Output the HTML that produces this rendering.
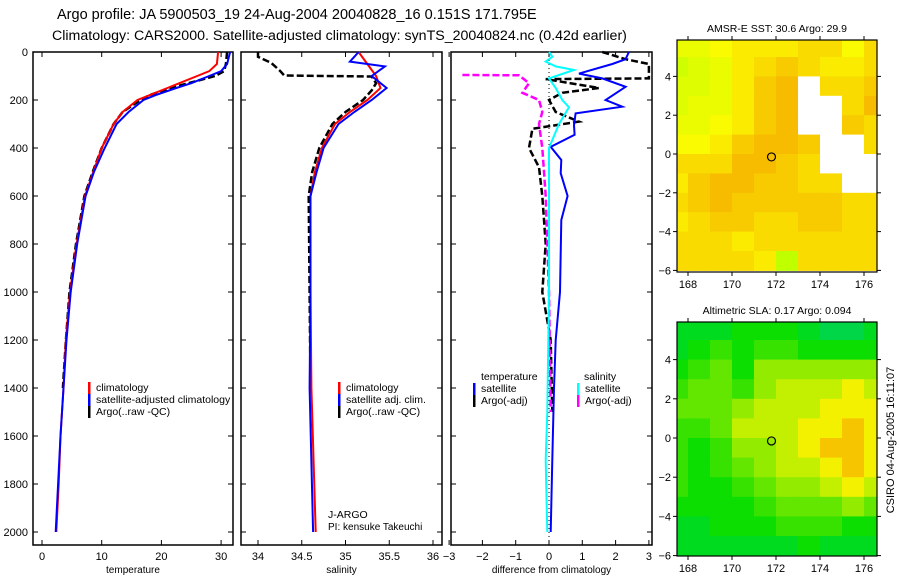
<!DOCTYPE html>
<html><head><meta charset="utf-8"><style>
body{margin:0;background:#fff;}
svg{display:block;font-family:"Liberation Sans",sans-serif;}
</style></head><body>
<svg id="fig" width="900" height="580" viewBox="0 0 900 580">
<text x="57" y="19" font-size="14.5">Argo profile: JA 5900503_19 24-Aug-2004 20040828_16 0.151S 171.795E</text>
<text x="52" y="40" font-size="14.2">Climatology: CARS2000. Satellite-adjusted climatology: synTS_20040824.nc (0.42d earlier)</text>
<text transform="translate(894,440) rotate(-90)" font-size="11" text-anchor="middle">CSIRO 04-Aug-2005 16:11:07</text>
</svg>
<script>
// ---------- data ----------
const depthTicks=[0,200,400,600,800,1000,1200,1400,1600,1800,2000];
const tempTicks=[0,10,20,30];
const salTicks=[34,34.5,35,35.5,36];
const diffTicks=[-3,-2,-1,0,1,2,3];
const tempClimDepth=[0,50,80,100,130,150,180,200,250,300,400,500,600,800,1000,1200,1400,1600,1800,2000];
const tempClim=[29.5,29.3,28,26,23,21,18,16,13.5,12,10,8.6,7.2,5.8,4.7,4,3.6,3.1,2.8,2.4];
const tempSatDepth=[0,50,80,100,130,150,180,200,250,300,400,500,600,800,1000,1200,1400,1600,1800,2000];
const tempSat=[31.5,31,30,28,25,22.5,19,17,14.5,12.5,10.5,8.7,7.3,5.9,4.8,4.1,3.6,3.1,2.7,2.3];
const tempArgoDepth=[0,50,80,100,130,150,180,200,250,300,400,500,600,800,1000,1200,1400];
const tempArgo=[31,30.8,30.5,29,24.5,21.5,18,16.5,13.5,12,10,8.5,7.1,5.7,4.6,4,3.5];
const salClimDepth=[0,100,150,200,250,300,400,500,600,1000,1400,2000];
const salClim=[35.15,35.35,35.4,35.25,35.05,34.88,34.73,34.65,34.6,34.6,34.61,34.66];
const salSatDepth=[0,20,40,60,100,150,200,250,300,400,500,600,1000,1400,2000];
const salSat=[35.15,35.1,35.05,35.45,35.3,35.47,35.3,35.1,34.92,34.75,34.67,34.6,34.6,34.59,34.63];
const salArgoDepth=[0,20,45,78,98,102,130,160,200,250,300,400,500,600,1000,1400];
const salArgo=[34.0,34.0,34.15,34.25,34.3,35.3,35.35,35.3,35.2,35.0,34.85,34.7,34.62,34.58,34.59,34.6];
const dTempSatDepth=[0,30,50,90,110,145,200,228,256,305,345,395,450,505,600,700,1000,1200,1400,1700,2000];
const dTempSat=[2.4,2.3,1.9,0.9,1.6,2.3,1.7,2.2,0.8,0.75,0.77,0.05,0.37,0.35,0.56,0.37,0.33,0.2,0.15,0.1,0.05];
const dTempArgoDepth=[0,30,50,110,113,150,170,200,250,290,320,400,480,600,800,1000,1200,1500];
const dTempArgo=[1.6,2.3,3,3,-0.1,1.5,0.4,0,0.2,0.9,-0.5,-0.6,-0.3,-0.2,-0.1,-0.2,0.05,0.1];
const dSalSatDepth=[0,20,40,60,75,110,150,200,230,300,400,600,1000,1500,1700,2000];
const dSalSat=[0,0.1,-0.1,0.2,0.75,0,0.2,0.4,0.6,0.3,0,0,0,-0.05,-0.1,-0.05];
const dSalArgoDepth=[96,97,130,170,200,250,300,400,600,1000,1500];
const dSalArgo=[-2.6,-0.9,-0.6,-0.8,-0.3,-0.2,-0.3,-0.2,-0.1,0,0.05];
const lonTicks=[168,170,172,174,176];
const latTicks=[-6,-4,-2,0,2,4];
const gridLats=[6,5,4,3,2,1,0,-1,-2,-3,-4,-5];
const gridLons=[167,168,169,170,171,172,173,174,175,176];
const N=null;
const sstGrid=[
[0.3,0.3,0.4,0.5,0.5,0.5,0.6,0.6,0.4,0.6],
[0.1,0.2,0.3,0.5,0.6,0.7,0.6,0.5,0.5,0.6],
[0.2,0.2,0.3,0.5,0.7,0.8,N,0.6,0.6,0.7],
[0.2,0.3,0.3,0.5,0.7,0.8,N,N,0.6,0.8],
[0.3,0.3,0.4,0.5,0.7,0.8,N,N,0.7,0.6],
[0.4,0.4,0.5,0.7,0.8,0.8,0.7,N,N,0.6],
[0.6,0.6,0.6,0.8,0.8,0.7,0.6,N,N,N],
[0.5,0.7,0.8,0.8,0.7,0.7,0.6,0.6,N,N],
[0.6,0.7,0.8,0.7,0.7,0.7,0.7,0.7,0.6,0.6],
[0.5,0.6,0.7,0.7,0.6,0.6,0.7,0.7,0.6,0.6],
[0.6,0.6,0.6,0.5,0.6,0.6,0.6,0.6,0.6,0.6],
[0.6,0.6,0.6,0.6,0.5,0,0.6,0.6,0.6,0.6]];
const slaGrid=[
[0.1,0.1,0.1,0.2,0.2,0.2,0.1,0,0,0.1],
[0.1,0.2,0.3,0.2,0.3,0.3,0.2,0.2,0.2,0.2],
[0.2,0.3,0.4,0.2,0.5,0.5,0.5,0.5,0.5,0.5],
[0.3,0.4,0.4,0.3,0.5,0.6,0.6,0.6,0.7,0.6],
[0.4,0.4,0.4,0.5,0.6,0.6,0.6,0.7,0.7,0.7],
[0.3,0.3,0.4,0.6,0.6,0.6,0.7,0.7,0.8,0.7],
[0.3,0.2,0.3,0.5,0.5,0.6,0.7,0.8,0.8,0.7],
[0.3,0.2,0.3,0.4,0.5,0.6,0.6,0.7,0.8,0.7],
[0.3,0.2,0.2,0.3,0.4,0.5,0.5,0.6,0.7,0.6],
[0.2,0.2,0.2,0.2,0.3,0.4,0.4,0.4,0.5,0.4],
[0.1,0.1,0.2,0.2,0.2,0.3,0.3,0.3,0.2,0.2],
[0.1,0.1,0.1,0.1,0.1,0.1,0.2,0.1,0.1,0.1]];
const argoLon=171.795, argoLat=-0.151;

// ---------- drawing ----------
const svg=document.getElementById('fig');
const NS='http://www.w3.org/2000/svg';
function el(tag,attrs,parent){const e=document.createElementNS(NS,tag);for(const k in attrs)e.setAttribute(k,attrs[k]);(parent||svg).appendChild(e);return e;}
function txt(x,y,s,size,anchor,parent){const t=el('text',{x:x,y:y,'font-size':size,'text-anchor':anchor||'start'},parent);t.textContent=s;return t;}
const yD=d=>52+d*0.24;
const PT=52,PB=545;

function panel(name,x0,x1,xs,ticks,fmt,label,showDepth){
  const g=el('g',{});
  
  
  const r=el('rect',{x:x0,y:PT,width:x1-x0,height:PB-PT,fill:'none',stroke:'#000','stroke-width':1.5},g);
  
  
  depthTicks.forEach(d=>{
    el('line',{x1:x0,x2:x0+5,y1:yD(d),y2:yD(d),stroke:'#000'},g);
    el('line',{x1:x1,x2:x1-5,y1:yD(d),y2:yD(d),stroke:'#000'},g);
    if(showDepth){const t=txt(x0-5,yD(d)+4,String(d),11,'end',g);
      
      }
  });
  ticks.forEach(v=>{
    el('line',{x1:xs(v),x2:xs(v),y1:PB,y2:PB-5,stroke:'#000'},g);
    el('line',{x1:xs(v),x2:xs(v),y1:PT,y2:PT+5,stroke:'#000'},g);
    const t=txt(xs(v),PB+15,fmt(v),11,'middle',g);
    
    
  });
  const l=txt((x0+x1)/2,PB+28,label,10,'middle',g);
  
  
  return g;
}
function line(g,name,depths,vals,xs,color,w,dash){
  let d='';depths.forEach((dp,i)=>{d+=(i?'L':'M')+xs(vals[i]).toFixed(1)+','+yD(dp).toFixed(1);});
  const p=el('path',{d:d,fill:'none',stroke:color,'stroke-width':w},g);
  if(dash)p.setAttribute('stroke-dasharray',dash);
  
  
}
function legend(g,x,y,color,label){
  el('rect',{x:x,y:y-9,width:2.5,height:12,fill:color},g);
  const t=txt(x+8,y,label,10.5,'start',g);
  
  
}
// panel 1
const xT=v=>42+v*5.97;
const g1=panel('temperature-panel',33,233,xT,tempTicks,v=>String(v),'temperature',true);
line(g1,'temp-argo-line',tempArgoDepth,tempArgo,xT,'#000',2.5,'7,3');
line(g1,'temp-climatology-line',tempClimDepth,tempClim,xT,'#f00',2);
line(g1,'temp-satellite-line',tempSatDepth,tempSat,xT,'#00f',2);
legend(g1,88,391,'#f00','climatology');
legend(g1,88,403,'#00f','satellite-adjusted climatology');
legend(g1,88,415,'#000','Argo(..raw -QC)');
// panel 2
const xS=v=>258+(v-34)*87.5;
const g2=panel('salinity-panel',241,442,xS,salTicks,v=>String(v),'salinity',false);
line(g2,'sal-argo-line',salArgoDepth,salArgo,xS,'#000',2.5,'7,3');
line(g2,'sal-climatology-line',salClimDepth,salClim,xS,'#f00',2);
line(g2,'sal-satellite-line',salSatDepth,salSat,xS,'#00f',2);
legend(g2,338,391,'#f00','climatology');
legend(g2,338,403,'#00f','satellite adj. clim.');
legend(g2,338,415,'#000','Argo(..raw -QC)');
const j1=txt(328,518,'J-ARGO',10.5,'start',g2);


const j2=txt(328,530,'PI: kensuke Takeuchi',10,'start',g2);


// panel 3
const xDf=v=>549+v*33.3;
const g3=panel('difference-panel',451,652,xDf,diffTicks,v=>(v<0?'\u2212'+(-v):String(v)),'difference from climatology',false);
el('line',{x1:xDf(0),x2:xDf(0),y1:PT,y2:PB,stroke:'#000','stroke-dasharray':'1,3'},g3);
line(g3,'diff-temp-argo-line',dTempArgoDepth,dTempArgo,xDf,'#000',2.5,'7,3');
line(g3,'diff-sal-argo-line',dSalArgoDepth,dSalArgo,xDf,'#f0f',2.5,'7,3');
line(g3,'diff-temp-satellite-line',dTempSatDepth,dTempSat,xDf,'#00f',2);
line(g3,'diff-sal-satellite-line',dSalSatDepth,dSalSat,xDf,'#0ff',2);
const h1=txt(481,380,'temperature',10.5,'start',g3);


const h2=txt(584,380,'salinity',10.5,'start',g3);


legend(g3,473,392,'#00f','satellite');
legend(g3,473,404,'#000','Argo(-adj)');
legend(g3,577,392,'#0ff','satellite');
legend(g3,577,404,'#f0f','Argo(-adj)');

// maps
function sstColor(v){const h=75-v*37;return 'hsl('+h+',100%,'+(50-v*2)+'%)';}
function slaColor(v){const h=140-v*115;return 'hsl('+h+',100%,'+(42+v*8)+'%)';}
function map(name,title,top,bot,yLat0,pxLat,grid,cf,id){
  const x0=677,x1=877;
  const xL=l=>688+(l-168)*22;
  const yL=v=>yLat0-v*pxLat;
  const g=el('g',{});
  
  
  const cp=el('clipPath',{id:id},g);
  el('rect',{x:x0,y:top,width:x1-x0,height:bot-top},cp);
  const cells=el('g',{'clip-path':'url(#'+id+')'},g);
  gridLats.forEach((la,r)=>gridLons.forEach((lo,c)=>{
    const v=grid[r][c];
    const rc=el('rect',{x:xL(lo),y:yL(la),width:22.5,height:pxLat+0.5,fill:v===null?'#fff':cf(v)},cells);
    
    
  }));
  el('rect',{x:x0,y:top,width:x1-x0,height:bot-top,fill:'none',stroke:'#000','stroke-width':1.2},g);
  lonTicks.forEach(l=>{
    el('line',{x1:xL(l),x2:xL(l),y1:bot,y2:bot+4,stroke:'#000'},g);
    el('line',{x1:xL(l),x2:xL(l),y1:top,y2:top-4,stroke:'#000'},g);
    const t=txt(xL(l),bot+16,String(l),11,'middle',g);
    
    
  });
  latTicks.forEach(v=>{
    el('line',{x1:x0,x2:x0-4,y1:yL(v),y2:yL(v),stroke:'#000'},g);
    el('line',{x1:x1,x2:x1+4,y1:yL(v),y2:yL(v),stroke:'#000'},g);
    const t=txt(x0-6,yL(v)+4,v<0?'\u2212'+(-v):String(v),11,'end',g);
    
    
  });
  const c=el('circle',{cx:xL(argoLon),cy:yL(argoLat),r:4,fill:'none',stroke:'#000','stroke-width':1.2},g);
  
  
  const t=txt(777,top-8,title,10.5,'middle',g);
  
  
}
map('sst-map','AMSR-E SST: 30.6 Argo: 29.9',40,272,154,19.4,sstGrid,sstColor,'clipA');
map('sla-map','Altimetric SLA: 0.17 Argo: 0.094',322,556,438,19.6,slaGrid,slaColor,'clipB');
</script>
</body></html>
